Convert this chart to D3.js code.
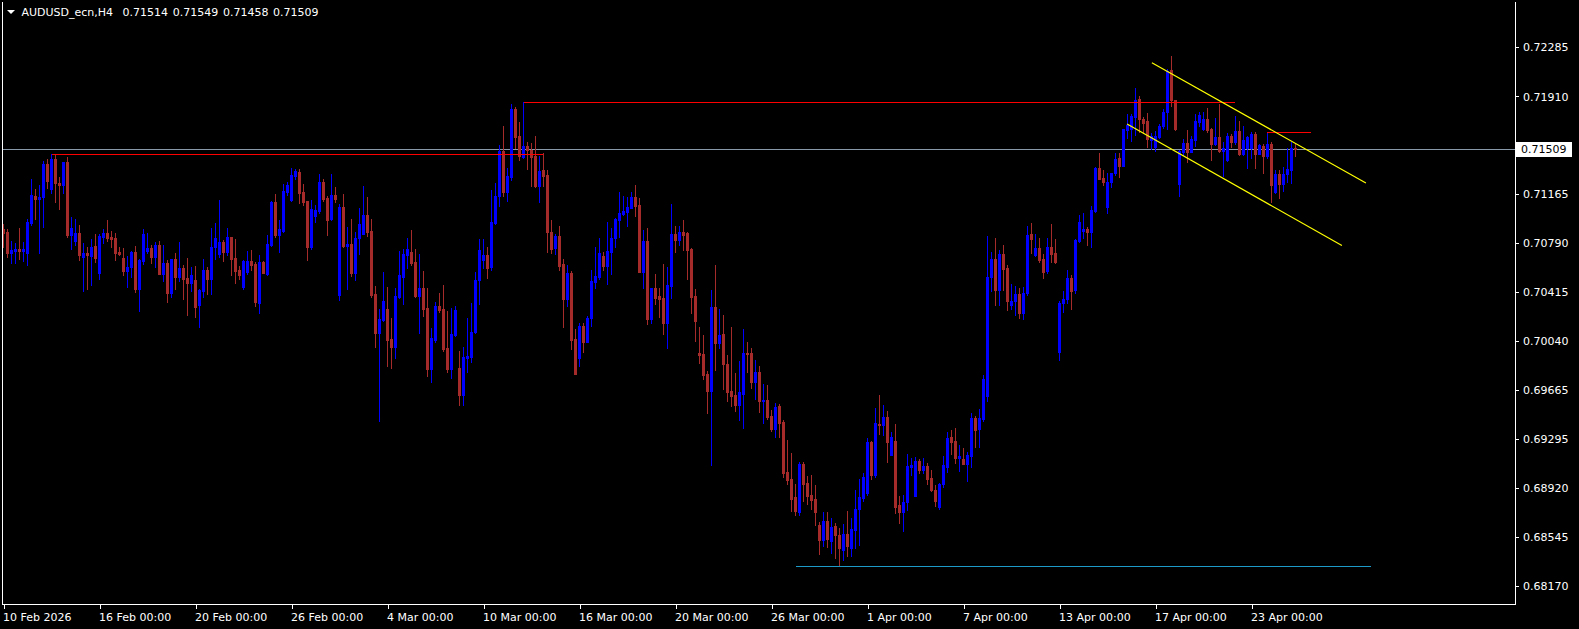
<!DOCTYPE html>
<html><head><meta charset="utf-8">
<script src="https://cdn.jsdelivr.net/npm/d3@7"></script>
<style>
html,body{margin:0;padding:0;background:#000;overflow:hidden;}
svg{display:block;}
text{font-family:"DejaVu Sans",sans-serif;font-size:11px;}
</style></head><body>
<svg id="chart" width="1579" height="629"></svg>
<script>
// ---------------- data ----------------
const symbolLabel = "AUDUSD_ecn,H4";
const headerValues = ["0.71514", "0.71549", "0.71458", "0.71509"];
const timeTickBars = [0, 24, 48, 72, 96, 120, 144, 168, 192, 216, 240, 264, 288, 312];
const timeLabels = ["10 Feb 2026", "16 Feb 00:00", "20 Feb 00:00", "26 Feb 00:00", "4 Mar 00:00",
  "10 Mar 00:00", "16 Mar 00:00", "20 Mar 00:00", "26 Mar 00:00", "1 Apr 00:00", "7 Apr 00:00",
  "13 Apr 00:00", "17 Apr 00:00", "23 Apr 00:00"];
const priceTicks = [0.72285, 0.71910, 0.71165, 0.70790, 0.70415, 0.70040, 0.69665, 0.69295, 0.68920, 0.68545, 0.68170];
const currentPrice = 0.71509;

const open = [
0.70895,0.70875,0.70717,0.70732,0.70747,0.70732,0.70717,0.70946,0.71150,0.71129,
0.71139,0.71394,0.71201,0.71432,0.71251,0.71231,0.71409,0.70854,0.70808,0.70864,
0.70686,0.70712,0.70691,0.70768,0.70564,0.70834,0.70864,0.70839,0.70829,0.70722,
0.70676,0.70579,0.70605,0.70722,0.70442,0.70650,0.70732,0.70752,0.70681,0.70773,
0.70554,0.70635,0.70411,0.70666,0.70528,0.70599,0.70523,0.70487,0.70508,0.70314,
0.70426,0.70584,0.70513,0.70757,0.70706,0.70798,0.70722,0.70834,0.70676,0.70584,
0.70452,0.70569,0.70650,0.70630,0.70329,0.70645,0.70554,0.70773,0.71104,0.70849,
0.70885,0.71180,0.71119,0.71302,0.71333,0.71180,0.71109,0.70757,0.70997,0.71038,
0.71256,0.71134,0.70976,0.71157,0.70393,0.71066,0.70765,0.70780,0.70561,0.70826,
0.70862,0.71004,0.70882,0.70398,0.70103,0.70200,0.70286,0.70057,0.69996,0.70378,
0.70531,0.70699,0.70724,0.70643,0.70383,0.70444,0.70291,0.69828,0.70047,0.70306,
0.70286,0.69986,0.69828,0.70088,0.69833,0.69629,0.69909,0.69919,0.70108,0.70505,
0.70658,0.70699,0.70607,0.70943,0.71147,0.71493,0.71178,0.71295,0.71814,0.71611,
0.71448,0.71534,0.71504,0.71458,0.71228,0.71346,0.71310,0.70877,0.70750,0.70846,
0.70627,0.70362,0.70561,0.70057,0.69909,0.70159,0.70036,0.70215,0.70495,0.70531,
0.70689,0.70612,0.70719,0.70826,0.70969,0.71010,0.71025,0.71060,0.71142,0.71081,
0.70571,0.70806,0.70210,0.70444,0.70383,0.70373,0.70182,0.70462,0.70859,0.70813,
0.70874,0.70869,0.70747,0.70385,0.69953,0.69942,0.69789,0.69662,0.70304,0.70029,
0.70095,0.69866,0.69662,0.69631,0.69550,0.69637,0.69953,0.69953,0.69728,0.69805,
0.69581,0.69591,0.69469,0.69367,0.69545,0.69423,0.69041,0.68985,0.68847,0.68735,
0.69102,0.68954,0.68862,0.68832,0.68633,0.68521,0.68664,0.68513,0.68628,0.68562,
0.68445,0.68567,0.68460,0.68598,0.68756,0.68842,0.68878,0.69270,0.69015,0.69408,
0.69402,0.69464,0.69173,0.69280,0.68786,0.68735,0.68812,0.69076,0.68857,0.69127,
0.69056,0.69087,0.68995,0.68903,0.68771,0.68949,0.69081,0.69306,0.69280,0.69148,
0.69143,0.69102,0.69163,0.69453,0.69367,0.69443,0.69621,0.70528,0.70666,0.70431,
0.70706,0.70599,0.70314,0.70345,0.70401,0.70258,0.70406,0.70859,0.70696,0.70752,
0.70666,0.70574,0.70757,0.70711,0.69958,0.70329,0.70360,0.70523,0.70431,0.70808,
0.70879,0.70895,0.70874,0.71032,0.71364,0.71287,0.71068,0.71257,0.71323,0.71440,
0.71379,0.71654,0.71659,0.71751,0.71888,0.71735,0.71720,0.71577,0.71521,0.71600,
0.71682,0.71789,0.72115,0.71881,0.71244,0.71483,0.71555,0.71488,0.71580,0.71712,
0.71661,0.71738,0.71661,0.71549,0.71600,0.71493,0.71422,0.71611,0.71560,0.71646,
0.71473,0.71514,0.71514,0.71621,0.71473,0.71534,0.71453,0.71544,0.71178,0.71315,
0.71244,0.71315,0.71351,0.71514];

const high = [
0.70936,0.70900,0.70803,0.70788,0.70905,0.70798,0.70976,0.71277,0.71201,0.71231,
0.71420,0.71430,0.71471,0.71460,0.71297,0.71409,0.71445,0.70987,0.70971,0.70925,
0.70788,0.70757,0.70818,0.70859,0.70859,0.70900,0.70966,0.70880,0.70869,0.70757,
0.70752,0.70691,0.70727,0.70768,0.70666,0.70895,0.70864,0.70773,0.70798,0.70803,
0.70773,0.70661,0.70671,0.70711,0.70798,0.70620,0.70676,0.70610,0.70615,0.70441,
0.70666,0.70604,0.70905,0.70941,0.71119,0.70813,0.70905,0.70834,0.70818,0.70615,
0.70660,0.70727,0.70737,0.70645,0.70696,0.70650,0.70849,0.71114,0.71165,0.70966,
0.71241,0.71257,0.71364,0.71353,0.71353,0.71241,0.71114,0.71119,0.71078,0.71318,
0.71282,0.71150,0.71318,0.71218,0.71091,0.71167,0.70913,0.70974,0.70872,0.71055,
0.71223,0.71142,0.70974,0.70459,0.70286,0.70566,0.70454,0.70215,0.70444,0.70729,
0.70745,0.70826,0.70887,0.70745,0.70709,0.70577,0.70444,0.70138,0.70342,0.70408,
0.70469,0.70271,0.70291,0.70306,0.69965,0.69996,0.70215,0.70332,0.70566,0.70821,
0.70821,0.70760,0.71193,0.71249,0.71539,0.71682,0.71361,0.71850,0.71830,0.71712,
0.71870,0.71565,0.71555,0.71605,0.71453,0.71478,0.71346,0.70964,0.70862,0.70918,
0.70668,0.70622,0.70577,0.70133,0.70179,0.70179,0.70230,0.70582,0.70760,0.70826,
0.70719,0.70953,0.70903,0.70979,0.71178,0.71147,0.71142,0.71178,0.71234,0.71132,
0.70892,0.70903,0.70449,0.70551,0.70444,0.70627,0.70604,0.71088,0.70920,0.70920,
0.70966,0.70874,0.70752,0.70436,0.70146,0.70085,0.69815,0.70431,0.70625,0.70284,
0.70243,0.69932,0.70146,0.69800,0.69886,0.70136,0.70034,0.69988,0.69897,0.69851,
0.69713,0.69703,0.69514,0.69565,0.69560,0.69438,0.69285,0.69183,0.68949,0.69117,
0.69117,0.69010,0.69020,0.68939,0.68659,0.68735,0.68735,0.68689,0.68653,0.68613,
0.68643,0.68740,0.68689,0.68903,0.68989,0.69030,0.69300,0.69280,0.69530,0.69632,
0.69550,0.69504,0.69346,0.69407,0.68857,0.68862,0.69178,0.69148,0.69153,0.69137,
0.69148,0.69112,0.69056,0.68939,0.68959,0.69163,0.69346,0.69362,0.69377,0.69244,
0.69224,0.69194,0.69489,0.69469,0.69525,0.69779,0.70844,0.70722,0.70829,0.70737,
0.70773,0.70620,0.70477,0.70462,0.70446,0.70452,0.70920,0.70941,0.70859,0.70829,
0.70706,0.70829,0.70935,0.70824,0.70347,0.70421,0.70584,0.70543,0.70818,0.71007,
0.71017,0.70915,0.71073,0.71369,0.71476,0.71348,0.71323,0.71328,0.71476,0.71476,
0.71664,0.71776,0.71776,0.71975,0.71914,0.71756,0.71786,0.71633,0.71649,0.71702,
0.71814,0.72120,0.72222,0.71886,0.71498,0.71585,0.71651,0.71611,0.71774,0.71794,
0.71794,0.71819,0.71667,0.71748,0.71855,0.71565,0.71631,0.71626,0.71763,0.71723,
0.71682,0.71611,0.71636,0.71636,0.71549,0.71549,0.71636,0.71560,0.71346,0.71346,
0.71371,0.71514,0.71565,0.71549];

const low = [
0.70757,0.70686,0.70640,0.70640,0.70671,0.70656,0.70620,0.70931,0.70976,0.70712,
0.70915,0.71211,0.71175,0.71106,0.71048,0.71170,0.70834,0.70747,0.70773,0.70661,
0.70426,0.70442,0.70467,0.70645,0.70518,0.70788,0.70808,0.70763,0.70661,0.70696,
0.70549,0.70457,0.70533,0.70416,0.70273,0.70630,0.70717,0.70640,0.70610,0.70554,
0.70503,0.70340,0.70380,0.70441,0.70503,0.70360,0.70238,0.70426,0.70222,0.70146,
0.70380,0.70401,0.70401,0.70671,0.70686,0.70655,0.70696,0.70548,0.70482,0.70518,
0.70436,0.70554,0.70584,0.70309,0.70258,0.70559,0.70543,0.70767,0.70839,0.70722,
0.70875,0.71160,0.71114,0.71282,0.71094,0.71078,0.70660,0.70742,0.70951,0.71022,
0.71114,0.70854,0.70966,0.71106,0.70357,0.70760,0.70439,0.70541,0.70510,0.70709,
0.70857,0.70841,0.70378,0.69996,0.69430,0.70195,0.69853,0.69838,0.69909,0.70368,
0.70327,0.70597,0.70622,0.70378,0.70103,0.70230,0.69777,0.69726,0.70036,0.70261,
0.69965,0.69807,0.69761,0.70077,0.69553,0.69553,0.69807,0.69879,0.70103,0.70327,
0.70597,0.70526,0.70587,0.70938,0.71076,0.71147,0.71111,0.71269,0.71514,0.71427,
0.71437,0.71356,0.71228,0.71218,0.71106,0.71228,0.70719,0.70714,0.70709,0.70582,
0.70149,0.70312,0.69980,0.69792,0.69848,0.69960,0.70031,0.70159,0.70444,0.70515,
0.70587,0.70480,0.70551,0.70760,0.70836,0.71004,0.70923,0.71055,0.70999,0.70571,
0.70449,0.70174,0.70179,0.70327,0.70225,0.70098,0.69988,0.70370,0.70722,0.70778,
0.70737,0.70518,0.70258,0.70044,0.69876,0.69754,0.69489,0.69097,0.69820,0.69988,
0.69672,0.69581,0.69545,0.69509,0.69438,0.69377,0.69805,0.69683,0.69596,0.69499,
0.69418,0.69448,0.69357,0.69311,0.69311,0.69005,0.68949,0.68745,0.68715,0.68715,
0.68822,0.68796,0.68760,0.68638,0.68414,0.68475,0.68470,0.68422,0.68383,0.68330,
0.68368,0.68399,0.68399,0.68460,0.68483,0.68817,0.68868,0.68990,0.69005,0.69331,
0.69321,0.69117,0.69168,0.68730,0.68654,0.68587,0.68750,0.69015,0.68857,0.69030,
0.69030,0.68949,0.68893,0.68781,0.68755,0.68924,0.69041,0.69178,0.69107,0.69051,
0.69102,0.68974,0.69076,0.69234,0.69234,0.69428,0.69586,0.70421,0.70319,0.70319,
0.70431,0.70279,0.70289,0.70238,0.70217,0.70212,0.70391,0.70717,0.70691,0.70645,
0.70523,0.70564,0.70645,0.70640,0.69893,0.70263,0.70329,0.70284,0.70411,0.70798,
0.70829,0.70778,0.70762,0.71027,0.71277,0.71236,0.71022,0.71216,0.71313,0.71292,
0.71379,0.71593,0.71572,0.71613,0.71639,0.71633,0.71521,0.71506,0.71491,0.71595,
0.71667,0.71661,0.71840,0.71651,0.71152,0.71463,0.71412,0.71483,0.71534,0.71687,
0.71656,0.71641,0.71427,0.71539,0.71488,0.71300,0.71417,0.71524,0.71549,0.71463,
0.71463,0.71366,0.71437,0.71361,0.71468,0.71325,0.71443,0.71106,0.71173,0.71137,
0.71188,0.71254,0.71249,0.71458];

const close = [
0.70870,0.70717,0.70737,0.70747,0.70732,0.70745,0.70951,0.71155,0.71129,0.71139,
0.71394,0.71267,0.71430,0.71246,0.71231,0.71409,0.70854,0.70905,0.70864,0.70696,
0.70712,0.70696,0.70757,0.70679,0.70844,0.70864,0.70831,0.70821,0.70717,0.70707,
0.70579,0.70605,0.70722,0.70442,0.70661,0.70859,0.70752,0.70681,0.70773,0.70554,
0.70635,0.70411,0.70666,0.70528,0.70599,0.70518,0.70487,0.70543,0.70304,0.70431,
0.70584,0.70513,0.70757,0.70829,0.70798,0.70722,0.70834,0.70671,0.70579,0.70548,
0.70650,0.70650,0.70620,0.70340,0.70645,0.70564,0.70783,0.71104,0.70849,0.70900,
0.71185,0.71236,0.71313,0.71338,0.71175,0.71104,0.70762,0.71048,0.71043,0.71256,
0.71129,0.70966,0.71160,0.71127,0.71066,0.70765,0.70780,0.70561,0.70826,0.70933,
0.71004,0.70877,0.70393,0.70103,0.70210,0.70347,0.70052,0.69996,0.70383,0.70546,
0.70704,0.70745,0.70638,0.70383,0.70444,0.70286,0.69828,0.70062,0.70306,0.70281,
0.69981,0.69828,0.70093,0.70276,0.69629,0.69919,0.69924,0.70108,0.70505,0.70734,
0.70699,0.70602,0.70948,0.71152,0.71493,0.71178,0.71305,0.71814,0.71600,0.71458,
0.71534,0.71499,0.71448,0.71228,0.71341,0.71305,0.70872,0.70745,0.70846,0.70617,
0.70362,0.70561,0.70052,0.69792,0.70159,0.70036,0.70220,0.70500,0.70536,0.70714,
0.70617,0.70729,0.70826,0.70974,0.71020,0.71035,0.71066,0.71142,0.71076,0.70571,
0.70806,0.70210,0.70444,0.70373,0.70362,0.70179,0.70467,0.70859,0.70813,0.70874,
0.70854,0.70737,0.70380,0.70197,0.69937,0.69784,0.69662,0.70304,0.70029,0.70090,
0.69866,0.69652,0.69621,0.69555,0.69652,0.69953,0.69942,0.69728,0.69805,0.69586,
0.69591,0.69463,0.69367,0.69535,0.69418,0.69036,0.68980,0.68837,0.68740,0.69102,
0.68949,0.68857,0.68827,0.68735,0.68521,0.68664,0.68526,0.68623,0.68557,0.68460,
0.68567,0.68475,0.68608,0.68756,0.68852,0.69000,0.69270,0.69015,0.69413,0.69402,
0.69464,0.69270,0.69306,0.68776,0.68735,0.68812,0.69087,0.69092,0.69127,0.69056,
0.69087,0.68985,0.68903,0.68822,0.68949,0.69092,0.69300,0.69270,0.69148,0.69163,
0.69102,0.69168,0.69453,0.69362,0.69453,0.69749,0.70528,0.70666,0.70431,0.70706,
0.70594,0.70345,0.70345,0.70401,0.70258,0.70406,0.70849,0.70824,0.70752,0.70661,
0.70569,0.70757,0.70706,0.70645,0.70330,0.70360,0.70523,0.70426,0.70813,0.70951,
0.70895,0.70874,0.71043,0.71364,0.71282,0.71257,0.71257,0.71323,0.71430,0.71379,
0.71659,0.71690,0.71761,0.71883,0.71735,0.71710,0.71583,0.71608,0.71608,0.71687,
0.71794,0.72105,0.71881,0.71661,0.71493,0.71555,0.71488,0.71585,0.71723,0.71768,
0.71738,0.71656,0.71549,0.71600,0.71493,0.71514,0.71611,0.71560,0.71646,0.71473,
0.71575,0.71600,0.71621,0.71473,0.71539,0.71453,0.71544,0.71234,0.71315,0.71239,
0.71315,0.71356,0.71514,0.71509];

// drawn objects (bar index / price)
const hLineLevels = [0.71870, 0.71468, 0.71636, 0.68322];
const hLineStart  = [130, 12, 315.9, 198];
const hLineEnd    = [307.9, 134.9, 326.9, 341.75];
const hLineColors = ["#ff0000", "#ff0000", "#ff0000", "#1e9ac8"];
const channelStartBar   = [287.1, 280.9];
const channelStartPrice = [0.72167, 0.71700];
const channelEndBar     = [340.6, 334.6];
const channelEndPrice   = [0.71249, 0.70771];

// ---------------- chart ----------------
const W = 1579, H = 629;
const plot = {left: 2, right: 1515, top: 2, bottom: 604};
const bull = "#0000ff", bear = "#a52a2a";

const svg = d3.select("#chart");
svg.append("rect").attr("width", W).attr("height", H).attr("fill", "#000");

const x = d3.scaleLinear().domain([0, 1]).range([3.5, 7.5]);
const y = d3.scaleLinear().domain([0.68170, 0.72285]).range([586.0, 47.4]);

svg.append("defs").append("clipPath").attr("id", "clip")
  .append("rect").attr("x", plot.left + 1).attr("y", plot.top + 1)
  .attr("width", plot.right - plot.left - 1).attr("height", plot.bottom - plot.top - 1);

const g = svg.append("g").attr("clip-path", "url(#clip)").attr("shape-rendering", "crispEdges");

// current price line (behind)
g.append("rect").attr("x", plot.left).attr("width", plot.right - plot.left)
  .attr("y", Math.round(y(currentPrice))).attr("height", 1)
  .attr("fill", "#8899aa");

const bars = d3.range(open.length).map(i => ({i, o: open[i], h: high[i], l: low[i], c: close[i]}));
const cg = g.append("g");
cg.selectAll("rect.wick").data(bars).join("rect").attr("class", "wick")
  .attr("x", d => x(d.i) - 0.5).attr("width", 1)
  .attr("y", d => Math.round(y(d.h)))
  .attr("height", d => Math.max(1, Math.round(y(d.l)) - Math.round(y(d.h)) + 1))
  .attr("fill", d => d.c >= d.o ? bull : bear);
cg.selectAll("rect.body").data(bars).join("rect").attr("class", "body")
  .attr("x", d => x(d.i) - 1.5).attr("width", 3)
  .attr("y", d => Math.round(y(Math.max(d.o, d.c))))
  .attr("height", d => Math.max(1, Math.round(y(Math.min(d.o, d.c))) - Math.round(y(Math.max(d.o, d.c))) + 1))
  .attr("fill", d => d.c >= d.o ? bull : bear);

// horizontal objects
hLineLevels.forEach((p, k) => {
  const x1 = Math.round(x(hLineStart[k])), x2 = Math.round(x(hLineEnd[k]));
  g.append("rect")
    .attr("x", x1).attr("width", x2 - x1)
    .attr("y", Math.round(y(p))).attr("height", 1)
    .attr("fill", hLineColors[k]);
});
// channel
channelStartBar.forEach((b, k) => {
  g.append("line")
    .attr("x1", x(b)).attr("y1", y(channelStartPrice[k]))
    .attr("x2", x(channelEndBar[k])).attr("y2", y(channelEndPrice[k]))
    .attr("stroke", "#ffff00").attr("stroke-width", 1.2).attr("shape-rendering", "auto");
});

// frame
const frame = svg.append("g").attr("shape-rendering", "crispEdges").attr("fill", "#ffffff");
frame.append("rect").attr("x", plot.left).attr("y", plot.top).attr("width", 1).attr("height", plot.bottom - plot.top + 1);
frame.append("rect").attr("x", plot.right).attr("y", plot.top).attr("width", 1).attr("height", plot.bottom - plot.top + 1);
frame.append("rect").attr("x", plot.left).attr("y", plot.bottom).attr("width", plot.right - plot.left + 1).attr("height", 1);

// price axis
const yAxis = d3.axisRight(y).tickValues(priceTicks).tickFormat(d3.format(".5f")).tickSize(3).tickPadding(4);
const ya = svg.append("g").attr("transform", `translate(${plot.right + 1},0)`).call(yAxis);
ya.select(".domain").remove();
ya.selectAll(".tick line").attr("stroke", "#fff").attr("shape-rendering", "crispEdges");
ya.selectAll(".tick text").attr("fill", "#fff").attr("font-family", "DejaVu Sans").attr("font-size", 11);

// current price label
const cy = Math.round(y(currentPrice));
svg.append("rect").attr("x", plot.right + 1).attr("y", cy - 7).attr("width", 56).attr("height", 15).attr("fill", "#fff");
svg.append("text").attr("x", plot.right + 6).attr("y", cy).attr("dy", "0.35em")
  .attr("fill", "#000").text(d3.format(".5f")(currentPrice));

// time axis
const xAxis = d3.axisBottom(x).tickValues(timeTickBars).tickFormat((d, i) => timeLabels[i]).tickSize(4).tickPadding(4);
const xa = svg.append("g").attr("transform", `translate(0,${plot.bottom + 1})`).call(xAxis);
xa.select(".domain").remove();
xa.selectAll(".tick line").attr("stroke", "#fff").attr("shape-rendering", "crispEdges");
xa.selectAll(".tick text").attr("fill", "#fff").attr("text-anchor", "start").attr("x", -1)
  .attr("font-family", "DejaVu Sans").attr("font-size", 11);

// header
svg.append("path").attr("d", "M7,10 L15,10 L11,14 Z").attr("fill", "#fff");
svg.append("text").attr("x", 21.5).attr("y", 15.5).attr("fill", "#fff").text(symbolLabel);
headerValues.forEach((v, i) => {
  svg.append("text").attr("x", 122.5 + 50.2 * i).attr("y", 15.5).attr("fill", "#fff").text(v);
});
</script>
</body></html>
